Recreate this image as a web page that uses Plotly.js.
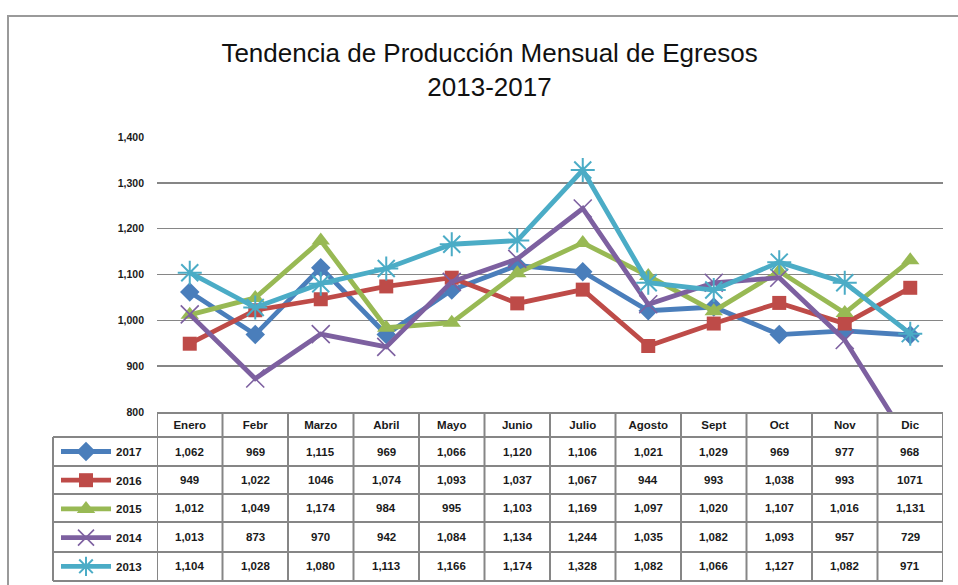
<!DOCTYPE html>
<html>
<head>
<meta charset="utf-8">
<script src="https://cdn.plot.ly/plotly-3.0.1.min.js"></script>
<style>html,body{margin:0;padding:0;background:#fff;}#chart{width:958px;height:585px;}</style>
</head>
<body>
<div id="chart"></div>
<script>
const months = ['Enero','Febr','Marzo','Abril','Mayo','Junio','Julio','Agosto','Sept','Oct','Nov','Dic'];
const years = ['2017','2016','2015','2014','2013'];
const v2017 = [1062,969,1115,969,1066,1120,1106,1021,1029,969,977,968];
const v2016 = [949,1022,1046,1074,1093,1037,1067,944,993,1038,993,1071];
const v2015 = [1012,1049,1174,984,995,1103,1169,1097,1020,1107,1016,1131];
const v2014 = [1013,873,970,942,1084,1134,1244,1035,1082,1093,957,729];
const v2013 = [1104,1028,1080,1113,1166,1174,1328,1082,1066,1127,1082,971];
const yTicks = [800,900,1000,1100,1200,1300,1400];
// cells shown without thousands separator in the original table
const noCommaCells = {'2016':['Marzo','Dic']};

const seriesValues = [v2017,v2016,v2015,v2014,v2013];
const colors = ['#4A7EBB','#BE4B48','#98B954','#7D60A0','#4BACC6'];
const markers = [
  {symbol:'diamond', size:15},
  {symbol:'square', size:14},
  {symbol:'triangle-up', size:16},
  {symbol:'x-thin-open', size:18, lw:1.6},
  {symbol:'asterisk-open', size:20, lw:2}
];

// geometry helpers (pixel -> paper)
const W=958,H=585, L=157, R=15, T=137, B=173;
const pw = W-L-R, ph = H-T-B;
const px = x => (x-L)/pw;
const py = y => (H-B-y)/ph;

const FAM = 'Liberation Sans, Arial, sans-serif';
const bold = {family:FAM, size:11.5, color:'#1a1a1a', weight:'bold'};

const traces = years.map((yr,k)=>{
  const m = markers[k];
  const mk = {symbol:m.symbol, size:m.size, color:colors[k]};
  if (m.lw) mk.line = {color:colors[k], width:m.lw};
  return {
    type:'scatter', mode:'lines+markers', name:yr, x:months, y:seriesValues[k],
    line:{color:colors[k], width:4.8}, marker:mk, legendgroup:yr, cliponaxis:true
  };
});

const rowCenters = [452, 480, 508, 537, 566];
const hLines = [437, 466, 494, 522, 552, 581];
const gray = '#868686';
const shapes = [];
// outer frame
shapes.push({type:'rect', xref:'paper', yref:'paper', x0:px(8), x1:px(975), y0:py(16), y1:py(600), line:{color:'#9a9a9a', width:2}});
// horizontal table lines
hLines.forEach(y=>shapes.push({type:'line', xref:'paper', yref:'paper', x0:px(53), x1:1, y0:py(y), y1:py(y), line:{color:gray, width:2}}));
// vertical table lines
shapes.push({type:'line', xref:'paper', yref:'paper', x0:px(53), x1:px(53), y0:py(437), y1:py(581), line:{color:gray, width:2}});
for (let i=0;i<=months.length;i++){
  shapes.push({type:'line', xref:'x', yref:'paper', x0:i-0.5, x1:i-0.5, y0:py(412), y1:py(581), line:{color:gray, width:2}});
}

const fmt = (v, yr, mo) => {
  if (noCommaCells[yr] && noCommaCells[yr].includes(mo)) return String(v);
  return v.toLocaleString('en-US');
};
const annotations = [];
years.forEach((yr,r)=>{
  months.forEach((mo,i)=>{
    annotations.push({x:mo, xref:'x', y:py(rowCenters[r]), yref:'paper', text:fmt(seriesValues[r][i],yr,mo),
      showarrow:false, font:bold, xanchor:'center', yanchor:'middle'});
  });
});

const layout = {
  width:W, height:H,
  margin:{l:L, r:R, t:T, b:B, autoexpand:false},
  paper_bgcolor:'#fff', plot_bgcolor:'#fff',
  title:{text:'Tendencia de Producción Mensual de Egresos<br>2013-2017', x:0.511, xanchor:'center', y:0.894, yanchor:'middle',
    font:{family:FAM, size:26, color:'#111'}},
  xaxis:{type:'category', categoryorder:'array', categoryarray:months, range:[-0.5, 11.5],
    showgrid:false, zeroline:false, showline:true, linecolor:gray, linewidth:2,
    ticks:'', tickfont:bold, ticklabelstandoff:1, fixedrange:true},
  yaxis:{range:[800,1400], tickvals:yTicks, tickformat:',', showgrid:true, gridcolor:gray, gridwidth:1.5,
    zeroline:false, showline:false, ticks:'', tickfont:{...bold, size:10.5}, ticklabelstandoff:12, fixedrange:true},
  showlegend:true,
  legend:{x:px(56), y:py(437), xanchor:'left', yanchor:'top', bgcolor:'rgba(0,0,0,0)', font:bold,
    tracegroupgap:9.7, itemwidth:50},
  shapes:shapes, annotations:annotations
};

Plotly.newPlot('chart', traces, layout, {displayModeBar:false, staticPlot:true});
</script>
</body>
</html>
